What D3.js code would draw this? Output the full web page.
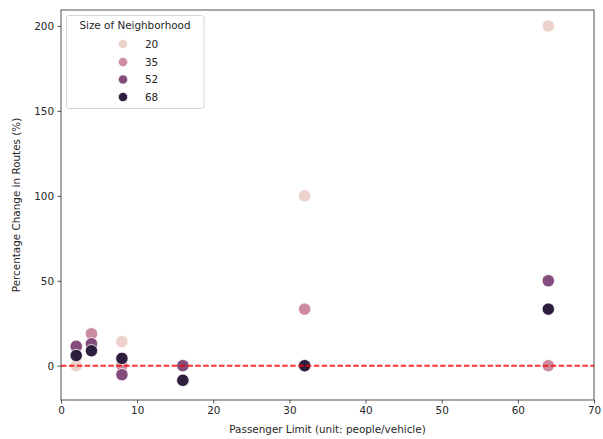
<!DOCTYPE html>
<html>
<head>
<meta charset="utf-8">
<script src="https://cdn.jsdelivr.net/npm/d3@7"></script>
<style>
  html, body { margin: 0; padding: 0; background: #fff; }
  text { font-family: "DejaVu Sans", sans-serif; }
</style>
</head>
<body>
<svg id="chart" width="603" height="439"></svg>
<script>
// Data
const passengerLimits = [2, 4, 8, 16, 32, 64];
const neighborhoodSizes = [20, 35, 52, 68];
const change20 = [0, 18.8, 14.1, 0, 100, 200];
const change35 = [11.1, 18.8, 0, 0, 33.3, 0];
const change52 = [11.4, 12.9, -5.3, 0, 0, 50];
const change68 = [6.0, 8.8, 4.3, -8.6, 0, 33.3];
const seriesValues = [change20, change35, change52, change68];
const xTicks = [0, 10, 20, 30, 40, 50, 60, 70];
const yTicks = [0, 50, 100, 150, 200];
const hueColors = ["#edd1cb", "#cb8ca0", "#834c7d", "#2d1e3e"];

const svg = d3.select("#chart");
const margin = { left: 61, right: 9, top: 10, bottom: 39 };
const W = 603, H = 439;
const fs = "10.4px";

const x = d3.scaleLinear().domain([0, 70]).range([margin.left, W - margin.right]);
const y = d3.scaleLinear().domain([-20.2, 209.4]).range([H - margin.bottom, margin.top]);
const color = d3.scaleOrdinal().domain(neighborhoodSizes).range(hueColors);

const textColor = "#262626";

// Points
const points = [];
neighborhoodSizes.forEach((s, i) => {
  passengerLimits.forEach((p, j) => {
    points.push({ size: s, x: p, y: seriesValues[i][j] });
  });
});

svg.append("g")
  .selectAll("circle")
  .data(points)
  .join("circle")
  .attr("cx", d => x(d.x))
  .attr("cy", d => y(d.y))
  .attr("r", 6.2)
  .attr("fill", d => color(d.size))
  .attr("stroke", "#fff")
  .attr("stroke-width", 0.8);

// Horizontal line at 0
svg.append("line")
  .attr("x1", x(0)).attr("x2", x(70))
  .attr("y1", y(0)).attr("y2", y(0))
  .attr("stroke", "#ff0000")
  .attr("stroke-opacity", 0.8)
  .attr("stroke-width", 2)
  .attr("stroke-dasharray", "5.5,2.4");

// Axes
const xAxis = svg.append("g")
  .attr("transform", `translate(0,${H - margin.bottom})`)
  .call(d3.axisBottom(x).tickValues(xTicks).tickSize(3.5).tickPadding(3.5).tickFormat(d3.format("d")));
const yAxis = svg.append("g")
  .attr("transform", `translate(${margin.left},0)`)
  .call(d3.axisLeft(y).tickValues(yTicks).tickSize(3.5).tickPadding(3.5).tickFormat(d3.format("d")));

[xAxis, yAxis].forEach(g => {
  g.select(".domain").remove();
  g.selectAll(".tick line").attr("stroke", textColor).attr("stroke-width", 0.8);
  g.selectAll(".tick text").attr("fill", textColor).style("font-size", fs)
    .style("font-family", "DejaVu Sans, sans-serif");
});

// Frame (spines)
svg.append("rect")
  .attr("x", margin.left).attr("y", margin.top)
  .attr("width", W - margin.left - margin.right)
  .attr("height", H - margin.top - margin.bottom)
  .attr("fill", "none")
  .attr("stroke", textColor)
  .attr("stroke-width", 0.8);

// Axis labels
svg.append("text")
  .attr("x", (x(0) + x(70)) / 2)
  .attr("y", 433)
  .attr("text-anchor", "middle")
  .attr("fill", textColor)
  .style("font-size", fs)
  .text("Passenger Limit (unit: people/vehicle)");

svg.append("text")
  .attr("transform", `translate(20,${(y(-20.2) + y(209.4)) / 2}) rotate(-90)`)
  .attr("text-anchor", "middle")
  .attr("fill", textColor)
  .style("font-size", fs)
  .text("Percentage Change in Routes (%)");

// Legend
const legend = svg.append("g");
legend.append("rect")
  .attr("x", 66.5).attr("y", 15.5)
  .attr("width", 137.5).attr("height", 93)
  .attr("rx", 2.5)
  .attr("fill", "#fff")
  .attr("fill-opacity", 0.8)
  .attr("stroke", "#cccccc")
  .attr("stroke-width", 0.8);
legend.append("text")
  .attr("x", 135).attr("y", 29)
  .attr("text-anchor", "middle")
  .attr("fill", textColor)
  .style("font-size", fs)
  .text("Size of Neighborhood");
const legendY = [44, 62, 79.5, 97];
neighborhoodSizes.forEach((s, i) => {
  legend.append("circle")
    .attr("cx", 123).attr("cy", legendY[i])
    .attr("r", 4.6)
    .attr("fill", color(s))
    .attr("stroke", "#fff")
    .attr("stroke-width", 0.6);
  legend.append("text")
    .attr("x", 145).attr("y", legendY[i] + 3.7)
    .attr("fill", textColor)
    .style("font-size", fs)
    .text(s);
});
</script>
</body>
</html>
